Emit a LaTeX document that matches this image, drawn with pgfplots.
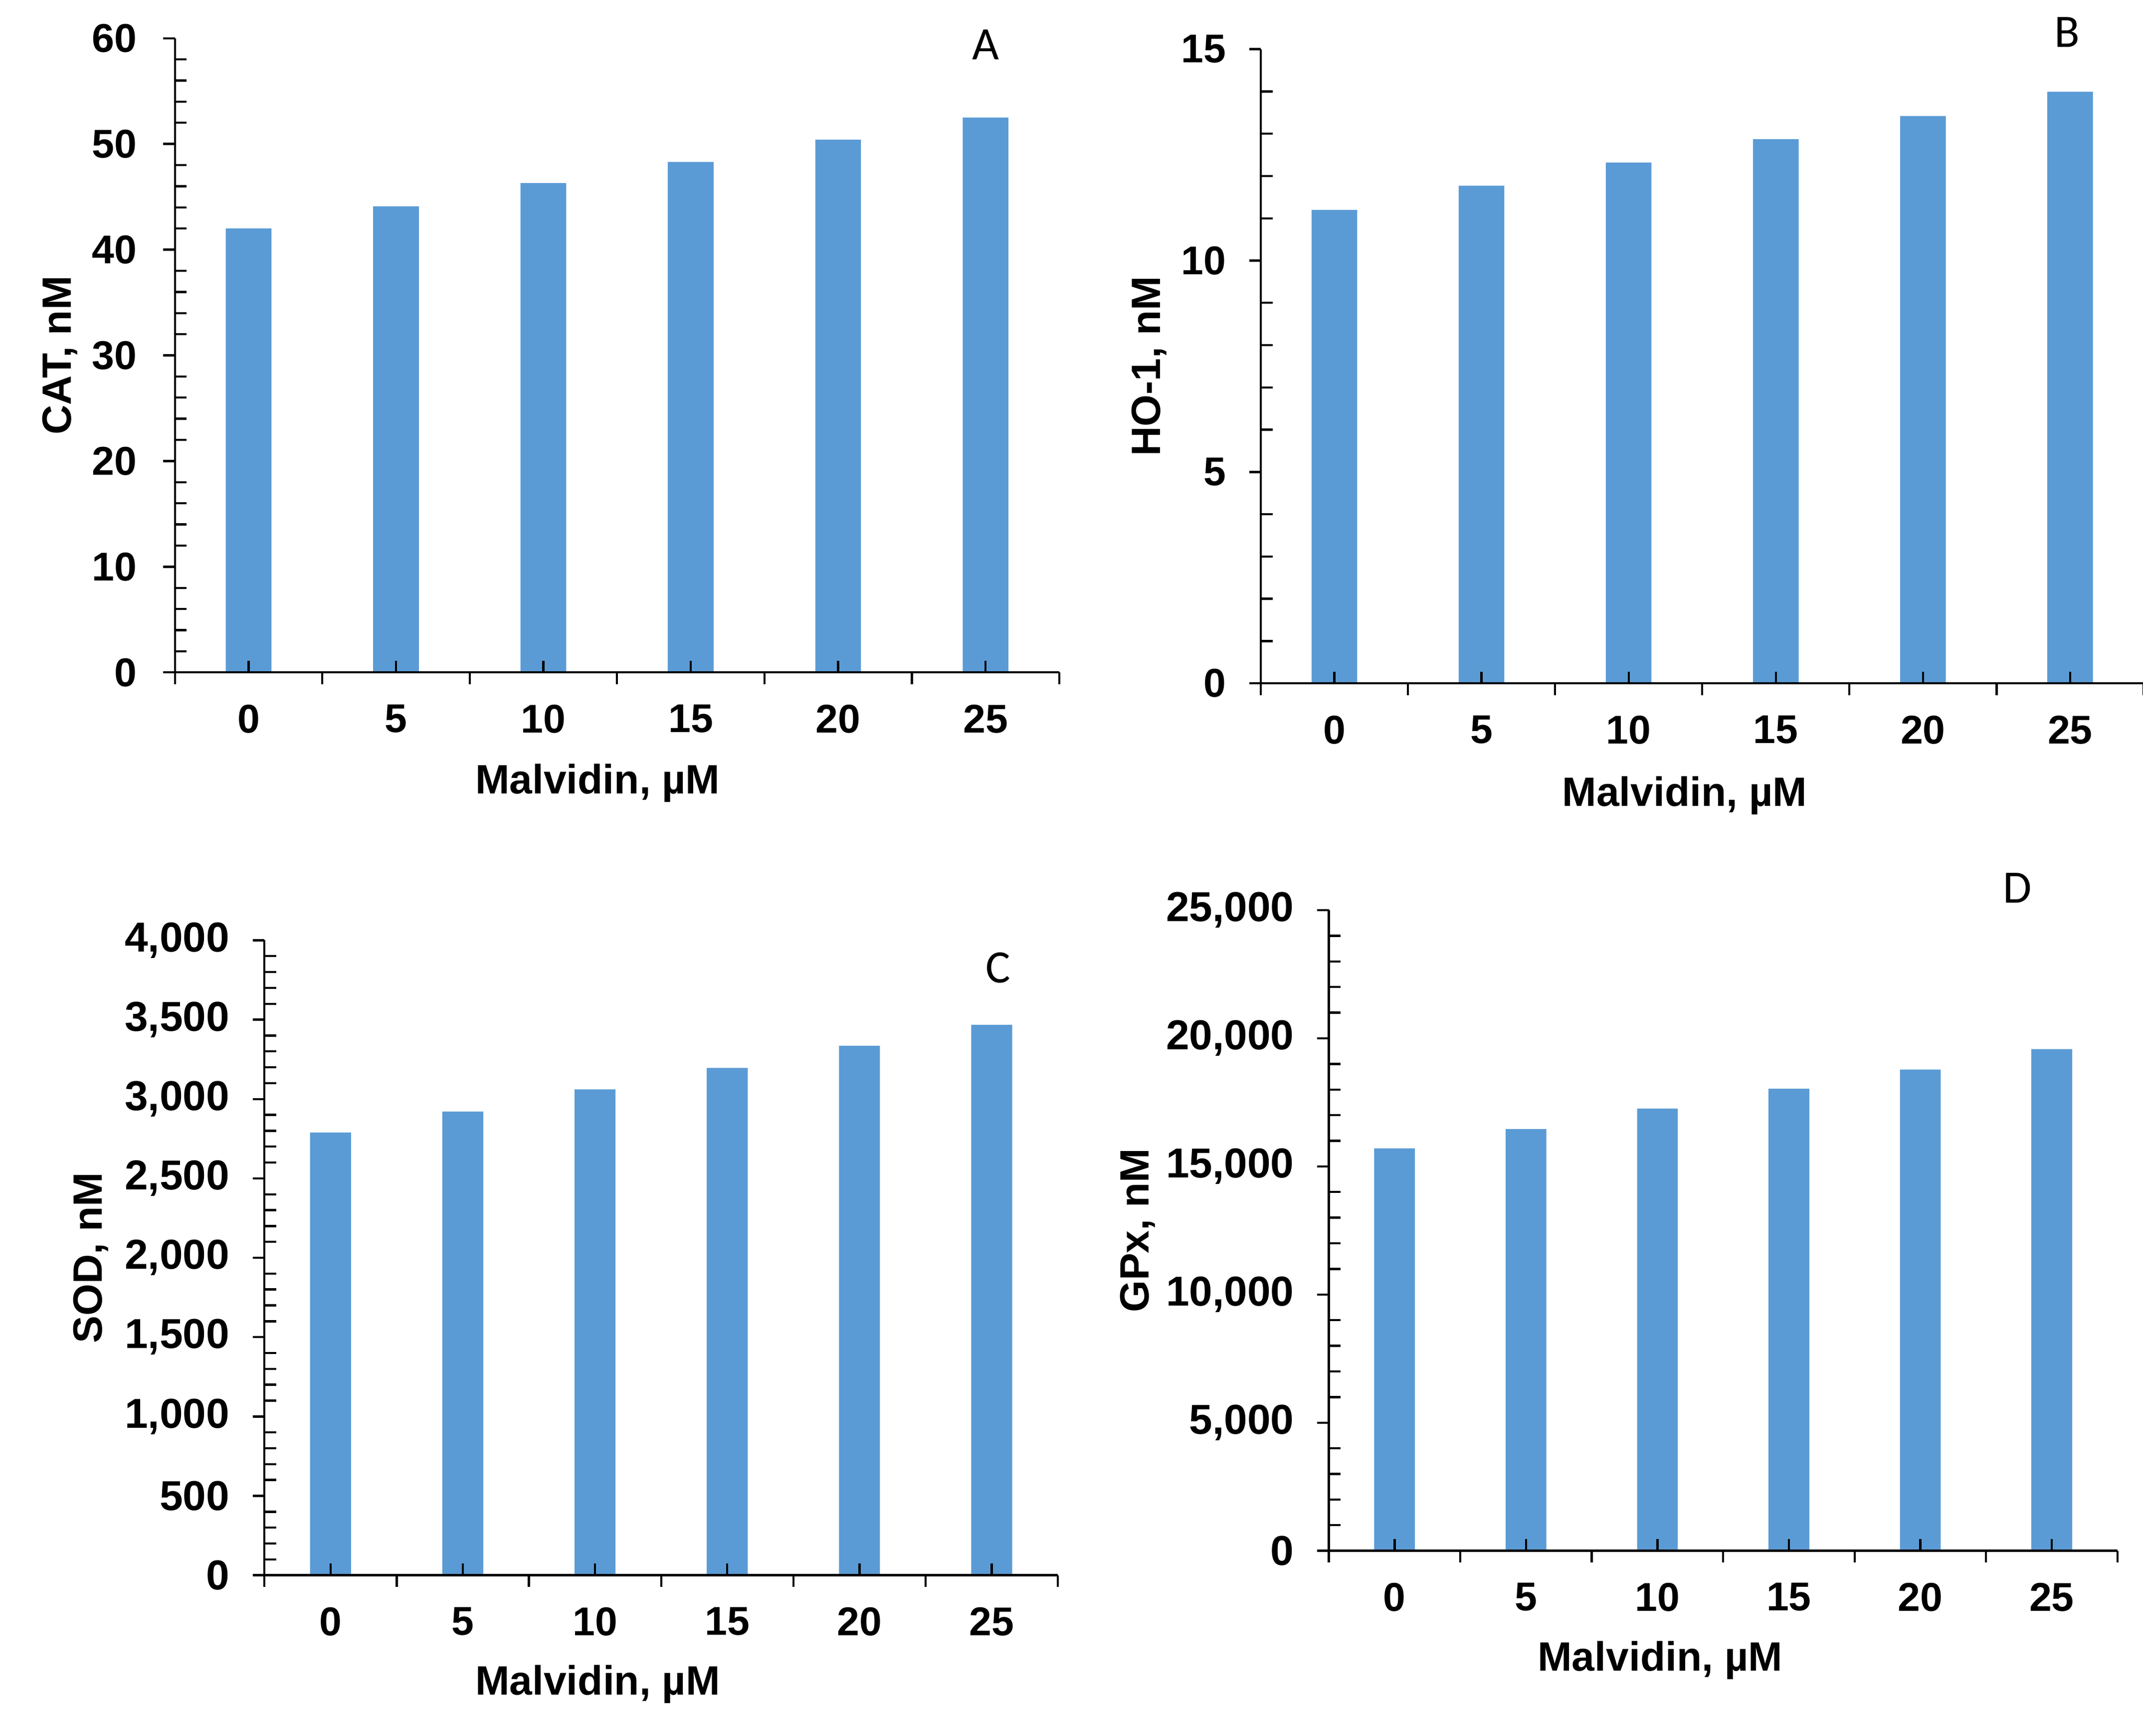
\documentclass[border=0pt]{standalone}
\usepackage{fontspec}
\setmainfont{Liberation Sans}
\newfontfamily\calibri{Carlito}
\usepackage{pgfplots}
\pgfplotsset{compat=1.18}
\definecolor{barblue}{HTML}{5B9BD5}

\pgfplotsset{
  panel/.style={
    scale only axis, anchor=south west,
    axis lines*=left, axis line style={-, line width=0.8pt},
    axis on top, clip=false,
    xmin=-0.5, xmax=5.5, ymin=0,
    xtick={0,...,5}, xticklabels={0,5,10,15,20,25},
    minor xtick={-0.5,0.5,...,5.5},
    minor y tick num=4,
    tick align=outside, tick pos=left,
    major tick length=4.25pt, minor tick length=4.3pt,
    tick style={black, line width=0.8pt},
    every major x tick/.append style={yshift=4.25pt},
    every minor y tick/.append style={xshift=4.3pt},
    scaled y ticks=false,
    /pgf/number format/assume math mode=true,
    /pgf/number format/1000 sep={,},
    yticklabel style={xshift=-5pt},
    xticklabel style={yshift=-4pt},
    label style={font=\bfseries\fontsize{15}{15}\selectfont},
    tick label style={font=\bfseries\fontsize{14.7}{14.7}\selectfont},
  },
  wide/.style={
    yticklabel style={font=\bfseries\fontsize{15.3}{15.3}\selectfont},
  },
  bars/.style={ybar, bar width=0.31, fill=barblue, draw=none},
}

\begin{document}
\begin{tikzpicture}
\useasboundingbox (0,0) rectangle (784pt,635pt);

% A: CAT
\begin{axis}[panel, at={(64pt,389pt)}, width=323.5pt, height=232pt,
    ymax=60, ytick={0,10,...,60},
    yticklabel style={xshift=-1.2pt},
    xlabel={Malvidin, µM}, ylabel={CAT, nM},
    xlabel style={at={(axis description cs:0.478,-0.1746)}, anchor=center},
    ylabel style={at={(axis description cs:-0.1298,0.5)}, anchor=center}]
  \addplot[bars] coordinates {(0,42.0) (1,44.1) (2,46.3) (3,48.3) (4,50.4) (5,52.5)};
  \node[font=\calibri\fontsize{17}{17}\selectfont] at (axis cs:5,59.4) {A};
\end{axis}

% B: HO-1
\begin{axis}[panel, at={(461.25pt,385pt)}, width=323pt, height=232pt,
    ymax=15, ytick={0,5,10,15},
    xlabel={Malvidin, µM}, ylabel={HO-1, nM},
    xlabel style={at={(axis description cs:0.48,-0.1767)}, anchor=center},
    ylabel style={at={(axis description cs:-0.1262,0.5)}, anchor=center}]
  \addplot[bars] coordinates {(0,11.2) (1,11.77) (2,12.32) (3,12.87) (4,13.42) (5,13.99)};
  \node[font=\calibri\fontsize{17}{17}\selectfont] at (axis cs:4.98,15.4) {B};
\end{axis}

% C: SOD
\begin{axis}[panel, wide, at={(96.75pt,58.7pt)}, width=290.25pt, height=232.3pt,
    ymax=4000, ytick={0,500,...,4000},
    xlabel={Malvidin, µM}, ylabel={SOD, nM},
    xlabel style={at={(axis description cs:0.42,-0.172)}, anchor=center},
    ylabel style={at={(axis description cs:-0.2188,0.5)}, anchor=center}]
  \addplot[bars] coordinates {(0,2789) (1,2921) (2,3061) (3,3196) (4,3336) (5,3468)};
  \node[font=\calibri\fontsize{17}{17}\selectfont] at (axis cs:5.05,3827) {C};
\end{axis}

% D: GPx
\begin{axis}[panel, wide, at={(486.15pt,67.65pt)}, width=288.5pt, height=234.35pt,
    ymax=25000, ytick={0,5000,...,25000},
    xlabel={Malvidin, µM}, ylabel={GPx, nM},
    xlabel style={at={(axis description cs:0.42,-0.1707)}, anchor=center},
    ylabel style={at={(axis description cs:-0.2426,0.5)}, anchor=center}]
  \addplot[bars] coordinates {(0,15708) (1,16460) (2,17257) (3,18031) (4,18783) (5,19580)};
  \node[font=\calibri\fontsize{17}{17}\selectfont] at (axis cs:4.74,25867) {D};
\end{axis}
\end{tikzpicture}
\end{document}
